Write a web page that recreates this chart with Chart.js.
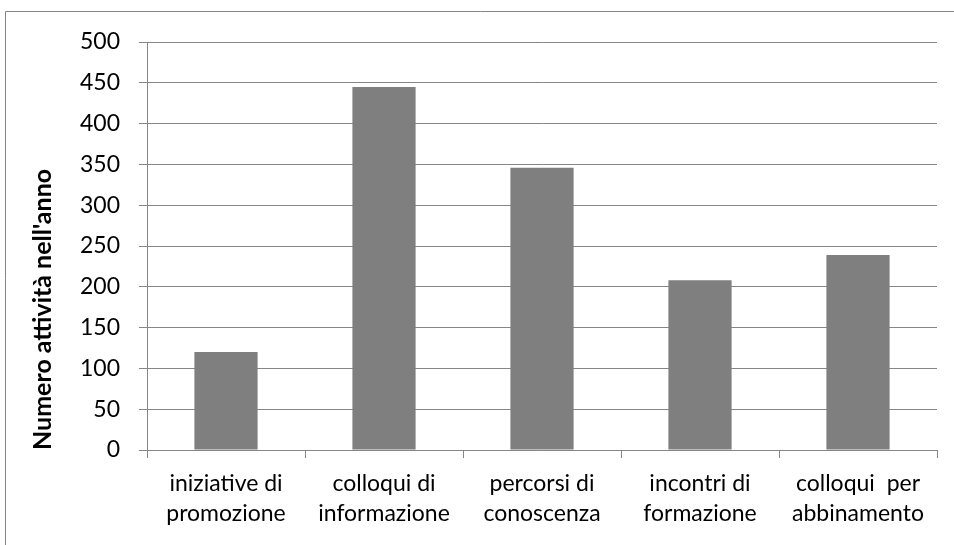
<!DOCTYPE html>
<html>
<head>
<meta charset="utf-8">
<script src="https://cdn.jsdelivr.net/npm/chart.js@4/dist/chart.umd.min.js"></script>
<style>
  html, body { margin: 0; padding: 0; background: #fff; }
  #wrap { position: relative; width: 954px; height: 545px; }
</style>
</head>
<body>
<div id="wrap"><canvas id="c" width="954" height="545"></canvas></div>
<script>
// Attività svolte nell'anno, per tipologia
const categories = [
  ['iniziative di', 'promozione'],
  ['colloqui di', 'informazione'],
  ['percorsi di', 'conoscenza'],
  ['incontri di', 'formazione'],
  ['colloqui  per', 'abbinamento']
];
const activityCounts = [120, 445, 346, 208, 239];
const yTicks = [0, 50, 100, 150, 200, 250, 300, 350, 400, 450, 500];
const yTitle = "Numero attività nell'anno";

const FONT = 'Lato, "Liberation Sans", sans-serif';
const LINE = '#868686';

// Frame around the chart (top and left edges fall inside the canvas)
const chartFrame = {
  id: 'chartFrame',
  beforeDraw(chart) {
    const ctx = chart.ctx;
    ctx.save();
    ctx.strokeStyle = LINE;
    ctx.lineWidth = 1;
    ctx.beginPath();
    ctx.moveTo(5.5, chart.height + 2);
    ctx.lineTo(5.5, 11.5);
    ctx.lineTo(chart.width + 2, 11.5);
    ctx.stroke();
    ctx.restore();
  }
};

new Chart(document.getElementById('c'), {
  type: 'bar',
  data: {
    labels: categories,
    datasets: [{
      data: activityCounts,
      backgroundColor: '#7f7f7f',
      borderWidth: 0,
      barPercentage: 0.4,
      categoryPercentage: 1
    }]
  },
  options: {
    responsive: false,
    animation: false,
    devicePixelRatio: 1,
    layout: { padding: { left: 0, right: 17, top: 42, bottom: 0 } },
    plugins: {
      legend: { display: false },
      tooltip: { enabled: false }
    },
    scales: {
      x: {
        offset: true,
        border: { color: LINE, width: 1 },
        grid: {
          offset: true,
          drawOnChartArea: false,
          drawTicks: true,
          tickLength: 8,
          color: LINE
        },
        ticks: {
          color: '#000',
          padding: 11,
          maxRotation: 0,
          autoSkip: false,
          font: { family: FONT, size: 23, lineHeight: '30px' }
        },
        afterFit(scale) { scale.height = 545 - 450; }
      },
      y: {
        min: 0,
        max: 500,
        afterBuildTicks(scale) { scale.ticks = yTicks.map(v => ({ value: v })); },
        border: { color: LINE, width: 1 },
        grid: {
          color: LINE,
          tickLength: 8,
          drawTicks: true
        },
        ticks: {
          color: '#000',
          padding: 19,
          font: { family: FONT, size: 23 }
        },
        title: {
          display: true,
          text: yTitle,
          align: 'start',
          color: '#000',
          padding: { top: 28, bottom: 0 },
          font: { family: FONT, size: 25, weight: 'bold' }
        },
        afterFit(scale) { scale.width = 147; }
      }
    }
  },
  plugins: [chartFrame]
});
</script>
</body>
</html>
